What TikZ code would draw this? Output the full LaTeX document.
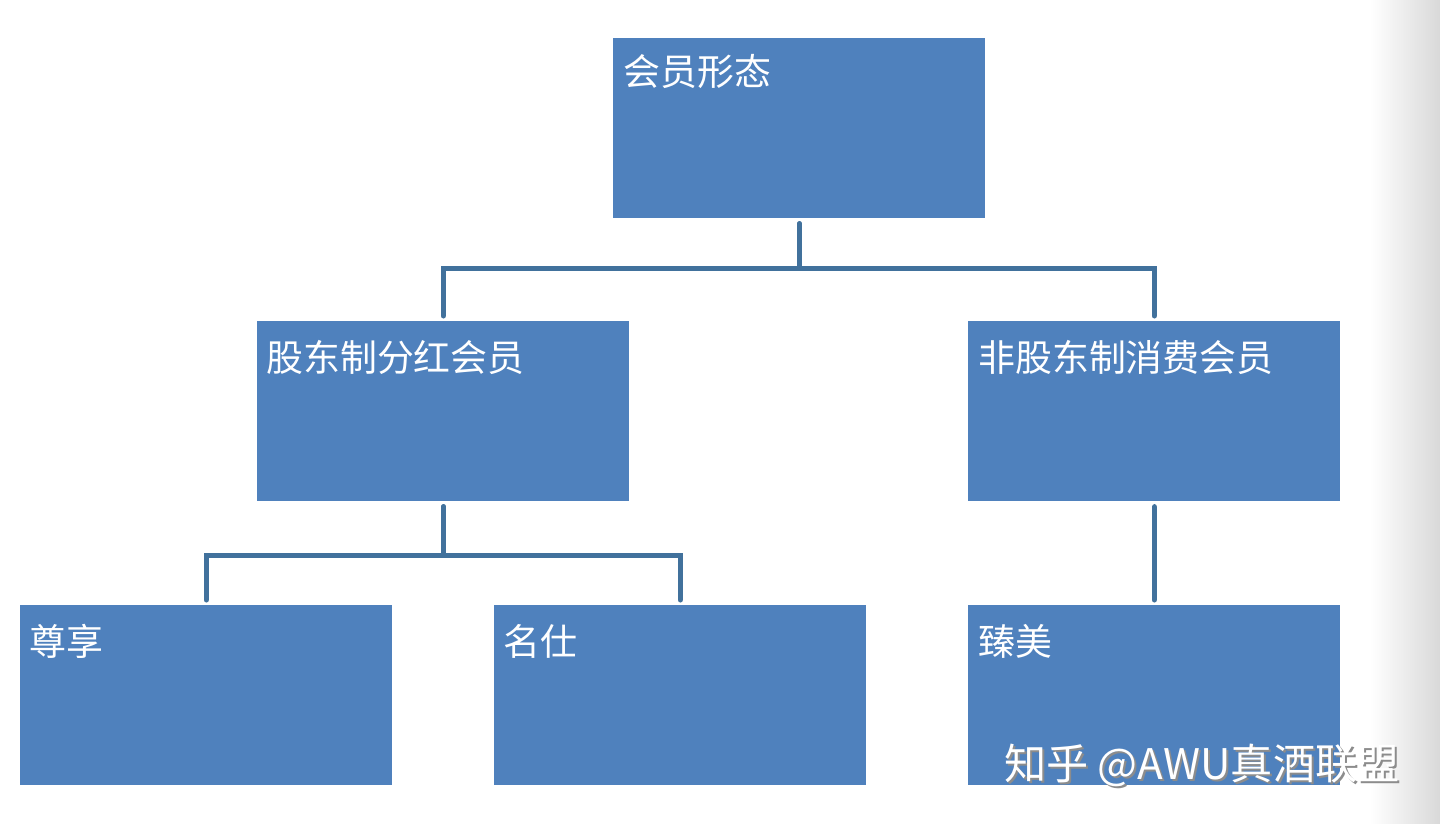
\documentclass[tikz,border=0pt]{standalone}
\usepackage{fontspec}
\setmainfont{Noto Sans CJK SC}
\usetikzlibrary{positioning,shadings}
\definecolor{boxblue}{HTML}{4F81BD}
\definecolor{linkblue}{HTML}{41719C}
\tikzset{
	box/.style={fill=boxblue, draw=none, minimum width=7.44cm, minimum height=3.6cm, inner sep=0pt},
	boxtext/.style={text=white, font=\fontsize{21pt}{24pt}\selectfont, inner sep=0pt},
	link/.style={linkblue, line width=3.2pt, line cap=round, shorten <=3pt, shorten >=3pt}
}
\begin{document}
\begin{tikzpicture}[x=0.02cm, y=-0.02cm]
		\useasboundingbox (0,0) rectangle (1440,824);
		%hintergrund rechts
		\shade[left color=white, right color=black!15] (1370,0) rectangle (1440,824);
		%kaesten
		\node[box, anchor=north west] (top) at (613,38) {};
		\node[box, anchor=north west] (lmid) at (257,321) {};
		\node[box, anchor=north west] (rmid) at (968,321) {};
		\node[box, anchor=north west] (zunxiang) at (20,605) {};
		\node[box, anchor=north west] (mingshi) at (494,605) {};
		\node[box, anchor=north west] (zhenmei) at (968,605) {};
		%texte
		\node[boxtext, anchor=west] (ttop) at (623,72) {会员形态};
		\node[boxtext, anchor=west] (tlmid) at (266,357) {股东制分红会员};
		\node[boxtext, anchor=west] (trmid) at (978,357) {非股东制消费会员};
		\node[boxtext, anchor=west] (tzun) at (29,641) {尊享};
		\node[boxtext, anchor=west] (tming) at (503,641) {名仕};
		\node[boxtext, anchor=west] (tzhen) at (978,641) {臻美};
		%verbindungen
		\draw[link] (top.south) -- ++(0,50) -| (lmid.north);
		\draw[link] (top.south) -- ++(0,50) -| (rmid.north);
		\draw[link] (lmid.south) -- ++(0,54) -| (zunxiang.north);
		\draw[link] (lmid.south) -- ++(0,54) -| (mingshi.north);
		\draw[link] (rmid.south) -- (zhenmei.north);
		%wasserzeichen
		\node[text=black!45, font=\fontsize{24pt}{28pt}\selectfont, anchor=west] (shadow) at (1000,767) {知乎 @AWU真酒联盟};
		\node[text=white, font=\fontsize{24pt}{28pt}\selectfont, anchor=west] (mark) at (998,765) {知乎 @AWU真酒联盟};
	\end{tikzpicture}
\end{document}
